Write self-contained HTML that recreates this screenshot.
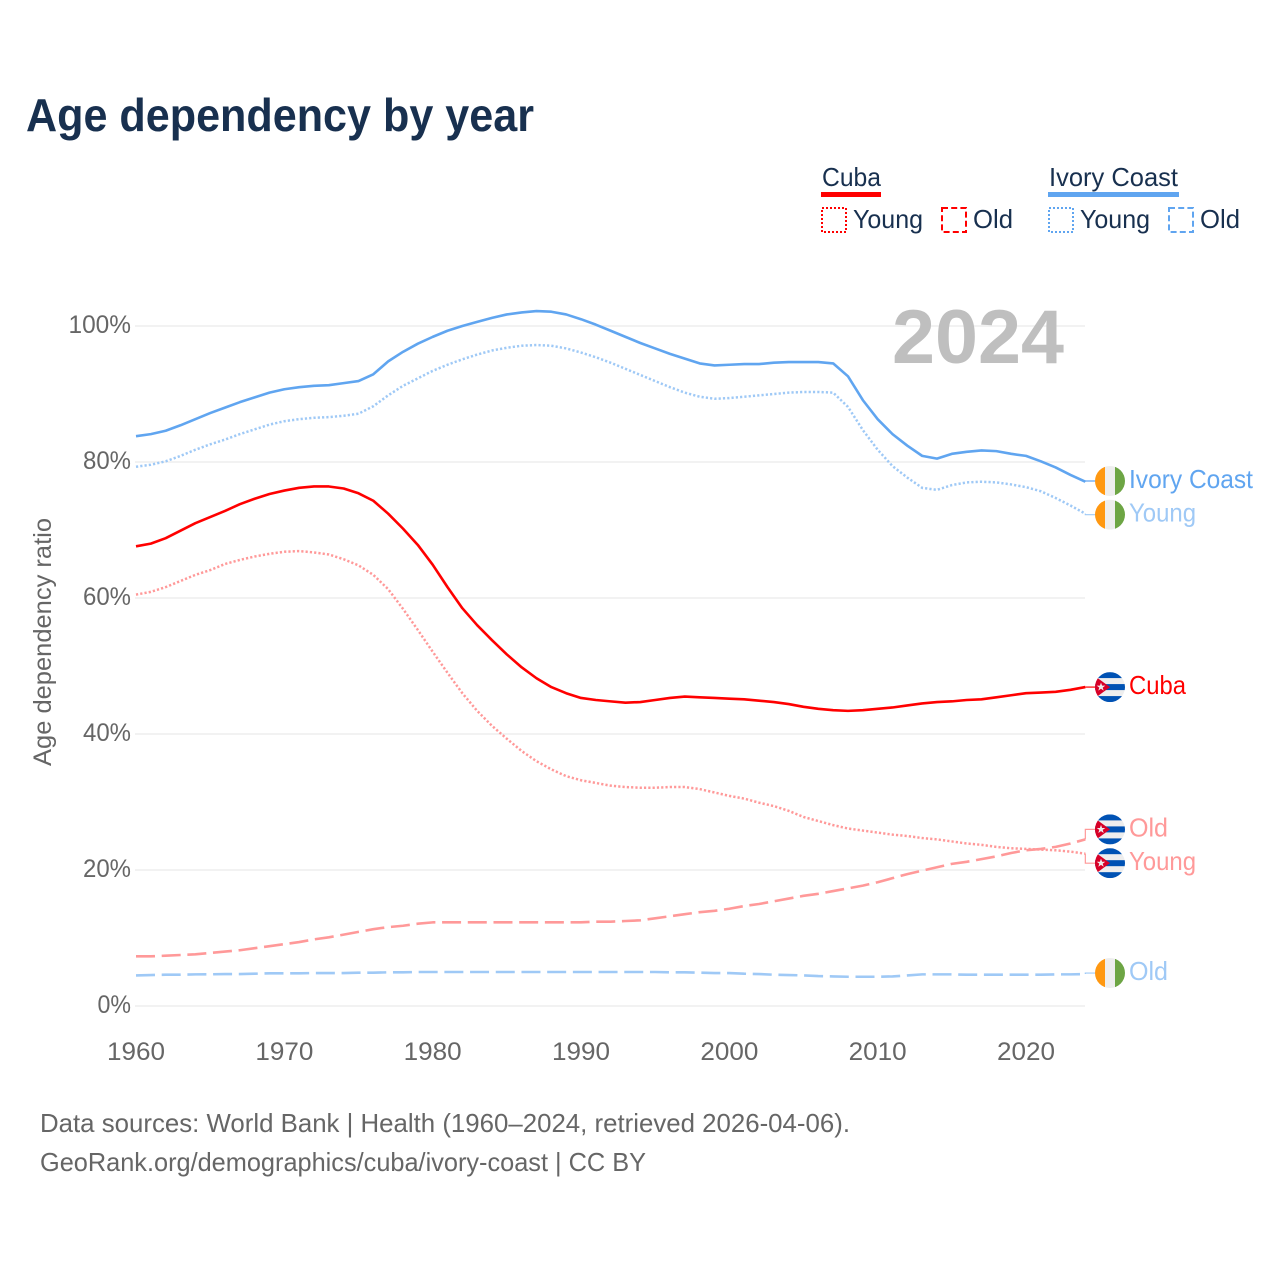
<!DOCTYPE html>
<html lang="en">
<head>
<meta charset="utf-8">
<title>Age dependency by year</title>
<style>
html,body{margin:0;padding:0;background:#fff;}
svg{display:block;}
text{font-family:"Liberation Sans",sans-serif;}
</style>
</head>
<body>
<svg id="chart" xmlns="http://www.w3.org/2000/svg" width="1280" height="1280" viewBox="0 0 1280 1280">
<defs>
<clipPath id="flag-clip"><circle cx="0" cy="0" r="15"/></clipPath>
</defs>
<rect x="0" y="0" width="1280" height="1280" fill="#fff"/>
<text x="26" y="131" font-size="46" font-weight="700" fill="#18304f" textLength="508" lengthAdjust="spacingAndGlyphs">Age dependency by year</text>

<g font-size="26" fill="#18304f">
<text x="822" y="186" textLength="59" lengthAdjust="spacingAndGlyphs">Cuba</text>
<rect x="821" y="192" width="60" height="5" fill="#ff0000"/>
<rect x="822" y="208" width="24" height="24" fill="none" stroke="#ff0000" stroke-width="2" stroke-dasharray="2 2"/>
<text x="853" y="228" textLength="70" lengthAdjust="spacingAndGlyphs">Young</text>
<rect x="942" y="208" width="24" height="24" fill="none" stroke="#ff0000" stroke-width="2" stroke-dasharray="6 3.2"/>
<text x="973" y="228" textLength="40" lengthAdjust="spacingAndGlyphs">Old</text>
<text x="1049" y="186" textLength="129" lengthAdjust="spacingAndGlyphs">Ivory Coast</text>
<rect x="1048" y="192" width="131" height="5" fill="#60a5f0"/>
<rect x="1049" y="208" width="24" height="24" fill="none" stroke="#60a5f0" stroke-width="2" stroke-dasharray="2 2"/>
<text x="1080" y="228" textLength="70" lengthAdjust="spacingAndGlyphs">Young</text>
<rect x="1169" y="208" width="24" height="24" fill="none" stroke="#60a5f0" stroke-width="2" stroke-dasharray="6 3.2"/>
<text x="1200" y="228" textLength="40" lengthAdjust="spacingAndGlyphs">Old</text>
</g>

<g id="grid"></g>
<text x="892" y="363" font-size="76" font-weight="700" fill="#bfbfbf" textLength="172" lengthAdjust="spacingAndGlyphs">2024</text>
<text transform="translate(51 642) rotate(-90)" text-anchor="middle" font-size="25" fill="#666" textLength="248" lengthAdjust="spacingAndGlyphs">Age dependency ratio</text>
<g id="series"></g>
<g id="labels"></g>

<text x="40" y="1132" font-size="26" fill="#666" textLength="810" lengthAdjust="spacingAndGlyphs">Data sources: World Bank | Health (1960–2024, retrieved 2026-04-06).</text>
<text x="40" y="1171" font-size="26" fill="#666" textLength="606" lengthAdjust="spacingAndGlyphs">GeoRank.org/demographics/cuba/ivory-coast | CC BY</text>
</svg>
<script>
const startYear = 1960;
const yTicks = [0, 20, 40, 60, 80, 100];
const xTicks = [1960, 1970, 1980, 1990, 2000, 2010, 2020];

const cubaTotal = [67.6,68.0,68.8,69.9,71.0,71.9,72.8,73.8,74.6,75.3,75.8,76.2,76.4,76.4,76.1,75.4,74.3,72.4,70.2,67.8,64.9,61.6,58.5,56.0,53.8,51.7,49.8,48.2,46.9,46.0,45.3,45.0,44.8,44.6,44.7,45.0,45.3,45.5,45.4,45.3,45.2,45.1,44.9,44.7,44.4,44.0,43.7,43.5,43.4,43.5,43.7,43.9,44.2,44.5,44.7,44.8,45.0,45.1,45.4,45.7,46.0,46.1,46.2,46.5,46.9];
const cubaYoung = [60.5,60.9,61.6,62.5,63.4,64.1,65.0,65.6,66.1,66.5,66.8,66.9,66.7,66.4,65.7,64.8,63.4,61.3,58.4,55.3,52.1,49.0,46.0,43.4,41.2,39.3,37.5,36.0,34.8,33.8,33.2,32.8,32.4,32.2,32.1,32.1,32.2,32.2,31.9,31.4,30.9,30.5,29.9,29.4,28.7,27.8,27.2,26.6,26.1,25.8,25.5,25.2,25.0,24.7,24.5,24.2,23.9,23.7,23.4,23.2,23.1,23.0,22.9,22.7,22.4];
const cubaOld = [7.3,7.3,7.4,7.5,7.6,7.8,8.0,8.2,8.5,8.8,9.1,9.4,9.8,10.1,10.5,10.9,11.3,11.6,11.8,12.1,12.3,12.3,12.3,12.3,12.3,12.3,12.3,12.3,12.3,12.3,12.3,12.4,12.4,12.5,12.6,12.9,13.2,13.5,13.8,14.0,14.3,14.7,15.0,15.4,15.8,16.2,16.5,16.9,17.3,17.7,18.2,18.8,19.4,19.9,20.4,20.9,21.2,21.6,22.0,22.5,22.9,23.1,23.4,23.9,24.5];
const ivoryTotal = [83.8,84.1,84.6,85.4,86.3,87.2,88.0,88.8,89.5,90.2,90.7,91.0,91.2,91.3,91.6,91.9,92.9,94.8,96.2,97.4,98.4,99.3,100.0,100.6,101.2,101.7,102.0,102.2,102.1,101.7,101.0,100.2,99.3,98.4,97.5,96.7,95.9,95.2,94.5,94.2,94.3,94.4,94.4,94.6,94.7,94.7,94.7,94.5,92.6,89.1,86.3,84.1,82.4,80.9,80.5,81.2,81.5,81.7,81.6,81.2,80.9,80.1,79.2,78.1,77.1];
const ivoryYoung = [79.3,79.6,80.1,80.9,81.8,82.6,83.3,84.1,84.8,85.5,86.0,86.3,86.5,86.6,86.8,87.1,88.2,89.8,91.2,92.3,93.4,94.3,95.1,95.8,96.4,96.8,97.1,97.2,97.1,96.7,96.1,95.4,94.6,93.7,92.8,91.9,91.0,90.2,89.6,89.3,89.4,89.6,89.8,90.0,90.2,90.3,90.3,90.2,88.1,84.7,81.8,79.4,77.7,76.2,75.9,76.6,77.0,77.1,77.0,76.7,76.3,75.7,74.7,73.6,72.4];
const ivoryOld = [4.5,4.55,4.6,4.6,4.65,4.66,4.7,4.7,4.75,4.8,4.8,4.8,4.85,4.85,4.85,4.9,4.9,4.95,4.95,5.0,5.0,5.0,5.0,5.0,5.0,5.0,5.0,5.0,5.0,5.0,5.0,5.0,5.0,5.0,5.0,5.0,4.95,4.95,4.9,4.85,4.85,4.75,4.7,4.6,4.55,4.5,4.4,4.35,4.3,4.3,4.3,4.35,4.5,4.65,4.65,4.65,4.6,4.6,4.6,4.6,4.6,4.6,4.65,4.65,4.7];

const NS = 'http://www.w3.org/2000/svg';
const xScale = function (year) { return 136 + (year - startYear) * (1026 - 136) / 60; };
const yScale = function (v) { return 1006 - v * 6.8; };
const make = function (parent, tag) {
  const node = document.createElementNS(NS, tag);
  parent.appendChild(node);
  return node;
};

const grid = document.getElementById('grid');
yTicks.forEach(function (t) {
  const line = make(grid, 'line');
  
  
  line.setAttribute('x1', 135);
  line.setAttribute('x2', 1085);
  line.setAttribute('y1', yScale(t));
  line.setAttribute('y2', yScale(t));
  line.setAttribute('stroke', '#eeeeee');
  line.setAttribute('stroke-width', 1.5);
  const label = make(grid, 'text');
  
  
  label.setAttribute('x', 131);
  label.setAttribute('y', yScale(t) + 7);
  label.setAttribute('text-anchor', 'end');
  label.setAttribute('font-size', 25);
  label.setAttribute('fill', '#666');
  label.setAttribute('textLength', String(t).length * 14.5 + 19);
  label.setAttribute('lengthAdjust', 'spacingAndGlyphs');
  label.textContent = t + '%';
});
xTicks.forEach(function (t) {
  const label = make(grid, 'text');
  
  
  label.setAttribute('x', xScale(t));
  label.setAttribute('y', 1060);
  label.setAttribute('text-anchor', 'middle');
  label.setAttribute('font-size', 25);
  label.setAttribute('fill', '#666');
  label.setAttribute('textLength', 58);
  label.setAttribute('lengthAdjust', 'spacingAndGlyphs');
  label.textContent = t;
});

const seriesLayer = document.getElementById('series');
const labelLayer = document.getElementById('labels');

function drawLine(values, name, color, dash, width) {
  const path = make(seriesLayer, 'path');
  
  
  path.setAttribute('d', values.map(function (v, i) {
    return (i ? 'L' : 'M') + xScale(startYear + i).toFixed(2) + ' ' + yScale(v).toFixed(2);
  }).join(''));
  path.setAttribute('fill', 'none');
  path.setAttribute('stroke', color);
  path.setAttribute('stroke-width', width);
  path.setAttribute('stroke-linejoin', 'round');
  if (dash) {
    path.setAttribute('stroke-dasharray', dash);
  }
}

function drawFlag(kind, cy, name) {
  const g = make(labelLayer, 'g');
  
  
  g.setAttribute('transform', 'translate(1110 ' + cy + ')');
  g.setAttribute('clip-path', 'url(#flag-clip)');
  const addRect = function (x, y, w, h, fill) {
    const r = make(g, 'rect');
    r.setAttribute('x', x);
    r.setAttribute('y', y);
    r.setAttribute('width', w);
    r.setAttribute('height', h);
    r.setAttribute('fill', fill);
  };
  if (kind === 'ivory') {
    addRect(-15, -15, 10, 30, '#ff9811');
    addRect(-5, -15, 10, 30, '#eeeeee');
    addRect(5, -15, 10, 30, '#6da544');
  } else {
    addRect(-15, -15, 30, 30, '#eeeeee');
    addRect(-15, -15, 30, 6, '#0052b4');
    addRect(-15, -3, 30, 6, '#0052b4');
    addRect(-15, 9, 30, 6, '#0052b4');
    const tri = make(g, 'polygon');
    tri.setAttribute('points', '-15,-11 0,0 -15,11 -16,11 -16,-11');
    tri.setAttribute('fill', '#d80027');
    const star = make(g, 'polygon');
    star.setAttribute('points', '-9,-4.5 -7.9,-1.4 -4.7,-1.4 -7.3,0.5 -6.3,3.6 -9,1.7 -11.7,3.6 -10.7,0.5 -13.3,-1.4 -10.1,-1.4');
    star.setAttribute('fill', '#eeeeee');
  }
}

function drawEnd(values, name, lineColor, kind, text, nudge, textWidth) {
  const last = values[values.length - 1];
  const y0 = yScale(last);
  const cy = y0 + nudge;
  const x0 = xScale(startYear + values.length - 1);
  const link = make(labelLayer, 'path');
  
  
  link.setAttribute('d', 'M' + x0 + ' ' + y0 + 'V' + cy + 'H1095');
  link.setAttribute('fill', 'none');
  link.setAttribute('stroke', lineColor);
  link.setAttribute('stroke-width', 1.2);
  drawFlag(kind, cy, name);
  const label = make(labelLayer, 'text');
  
  
  label.setAttribute('x', 1129);
  label.setAttribute('y', cy + 7);
  label.setAttribute('font-size', 26);
  label.setAttribute('fill', lineColor);
  label.setAttribute('textLength', textWidth);
  label.setAttribute('lengthAdjust', 'spacingAndGlyphs');
  label.textContent = text;
}

const RED = '#ff0000', REDLIGHT = '#ff9999', BLUE = '#60a5f0', BLUELIGHT = '#9fc9f6';
const DOTS = '2.2 2.1', DASHES = '19 6.7';

drawLine(ivoryOld, 'ivory-old', BLUELIGHT, DASHES, 2.6);
drawLine(ivoryYoung, 'ivory-young', BLUELIGHT, DOTS, 2.5);
drawLine(cubaOld, 'cuba-old', REDLIGHT, DASHES, 2.6);
drawLine(cubaYoung, 'cuba-young', REDLIGHT, DOTS, 2.5);
drawLine(ivoryTotal, 'ivory-total', BLUE, null, 2.6);
drawLine(cubaTotal, 'cuba-total', RED, null, 2.6);

drawEnd(ivoryTotal, 'ivory-total', BLUE, 'ivory', 'Ivory Coast', -0.7, 124);
drawEnd(ivoryYoung, 'ivory-young', BLUELIGHT, 'ivory', 'Young', 1, 67);
drawEnd(cubaTotal, 'cuba-total', RED, 'cuba', 'Cuba', 0, 57);
drawEnd(cubaOld, 'cuba-old', REDLIGHT, 'cuba', 'Old', -10, 39);
drawEnd(cubaYoung, 'cuba-young', REDLIGHT, 'cuba', 'Young', 9.5, 67);
drawEnd(ivoryOld, 'ivory-old', BLUELIGHT, 'ivory', 'Old', -1, 39);
</script>
</body>
</html>
